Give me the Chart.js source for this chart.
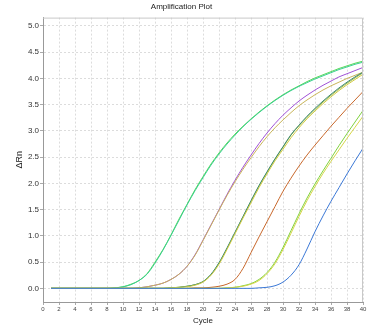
<!DOCTYPE html>
<html>
<head>
<meta charset="utf-8">
<script src="https://cdn.jsdelivr.net/npm/chart.js@4/dist/chart.umd.min.js"></script>
<style>
  html, body { margin: 0; padding: 0; background: #fff; }
  #wrap { width: 369px; height: 333px; }
</style>
</head>
<body>
<div id="wrap"><canvas id="ampPlot" width="369" height="333"></canvas></div>
<script>
// cycle numbers 1..40
const cycles = [1,2,3,4,5,6,7,8,9,10,11,12,13,14,15,16,17,18,19,20,
                21,22,23,24,25,26,27,28,29,30,31,32,33,34,35,36,37,38,39,40];

// delta Rn per cycle, one array per well
const wellGreen = [0,0,0,0,0,0,0,0,0.01,0.03,0.08,0.15,0.28,0.5,0.74,1.02,1.32,1.6,1.88,2.13,
                   2.37,2.58,2.77,2.94,3.09,3.23,3.36,3.48,3.59,3.69,3.78,3.86,3.94,4.01,4.07,4.13,4.19,4.24,4.29,4.33];
const wellTeal = [0,0,0,0,0,0,0,0,0.01,0.03,0.07,0.15,0.27,0.48,0.73,1.01,1.3,1.59,1.86,2.11,
                  2.35,2.56,2.75,2.92,3.08,3.22,3.35,3.47,3.58,3.68,3.77,3.85,3.92,3.99,4.05,4.11,4.17,4.22,4.27,4.31];
const wellPurple = [0,0,0,0,0,0,0,0,0,0,0,0.01,0.03,0.06,0.1,0.17,0.27,0.42,0.64,0.92,
                    1.21,1.5,1.79,2.06,2.31,2.54,2.76,2.96,3.14,3.3,3.44,3.57,3.68,3.78,3.87,3.95,4.03,4.09,4.15,4.21];
const wellTan = [0,0,0,0,0,0,0,0,0,0,0,0.01,0.03,0.06,0.1,0.17,0.27,0.42,0.63,0.91,
                 1.2,1.49,1.77,2.03,2.27,2.49,2.7,2.89,3.06,3.21,3.35,3.48,3.59,3.69,3.78,3.86,3.93,4.0,4.06,4.12];
const wellOlive = [0,0,0,0,0,0,0,0,0,0,0,0,0,0,0,0.01,0.02,0.04,0.07,0.13,
                   0.26,0.48,0.76,1.06,1.36,1.66,1.95,2.21,2.46,2.69,2.92,3.1,3.26,3.41,3.55,3.68,3.8,3.91,4.01,4.11];
const wellDarkTeal = [0,0,0,0,0,0,0,0,0,0,0,0,0,0,0,0.01,0.02,0.04,0.07,0.13,
                      0.27,0.49,0.77,1.07,1.37,1.67,1.96,2.22,2.47,2.7,2.93,3.11,3.28,3.43,3.57,3.7,3.82,3.93,4.03,4.12];
const wellYellow = [0,0,0,0,0,0,0,0,0,0,0,0,0,0,0,0.01,0.02,0.03,0.06,0.12,
                    0.25,0.46,0.74,1.04,1.34,1.63,1.92,2.18,2.43,2.65,2.87,3.06,3.23,3.38,3.52,3.65,3.77,3.88,3.98,4.08];
const wellOrange = [0,0,0,0,0,0,0,0,0,0,0,0,0,0,0,0,0,0,0.01,0.01,
                    0.02,0.04,0.08,0.17,0.38,0.68,0.98,1.27,1.56,1.85,2.1,2.33,2.54,2.73,2.91,3.09,3.26,3.43,3.59,3.75];
const wellLime = [0,0,0,0,0,0,0,0,0,0,0,0,0,0,0,0,0,0,0,0,
                  0,0,0.01,0.02,0.05,0.09,0.17,0.3,0.5,0.78,1.1,1.42,1.72,1.99,2.24,2.48,2.72,2.95,3.17,3.39];
const wellLemon = [0,0,0,0,0,0,0,0,0,0,0,0,0,0,0,0,0,0,0,0,
                   0,0,0.01,0.02,0.04,0.08,0.15,0.28,0.47,0.74,1.05,1.37,1.67,1.94,2.19,2.42,2.64,2.86,3.07,3.28];
const wellBlue = [0,0,0,0,0,0,0,0,0,0,0,0,0,0,0,0,0,0,0,0,
                  0,0,0,0,0,0,0.01,0.02,0.05,0.12,0.25,0.45,0.75,1.08,1.38,1.66,1.92,2.18,2.43,2.67];

const xTicks = [0,2,4,6,8,10,12,14,16,18,20,22,24,26,28,30,32,34,36,38,40];
const yTicks = [0,0.5,1,1.5,2,2.5,3,3.5,4,4.5,5];

const wells = [
  { data: wellBlue, color: '#3b78d6' },
  { data: wellLemon, color: '#d6d64a' },
  { data: wellLime, color: '#7fd23e' },
  { data: wellYellow, color: '#d2cc44' },
  { data: wellDarkTeal, color: '#3f8a74' },
  { data: wellOlive, color: '#98b646' },
  { data: wellTan, color: '#c9b55a' },
  { data: wellPurple, color: '#a052d6' },
  { data: wellTeal, color: '#3ccf92' },
  { data: wellGreen, color: '#58d858' },
  { data: wellOrange, color: '#c8682c' }
];

const datasets = wells.map(w => ({
  data: cycles.map((c, i) => ({ x: c, y: w.data[i] })),
  borderColor: w.color,
  borderWidth: 1,
  pointRadius: 0,
  fill: false,
  cubicInterpolationMode: 'monotone'
}));

// light frame on top and right of the plot
const frame = {
  id: 'frame',
  afterDraw(chart) {
    const a = chart.chartArea, ctx = chart.ctx;
    ctx.save();
    ctx.strokeStyle = '#c8c8c8';
    ctx.lineWidth = 1;
    ctx.beginPath();
    ctx.moveTo(a.left, a.top + 0.5);
    ctx.lineTo(a.right - 0.5, a.top + 0.5);
    ctx.lineTo(a.right - 0.5, a.bottom);
    ctx.stroke();
    ctx.restore();
  }
};

const font = 'Liberation Sans, Arial, sans-serif';

const grid = {
  color: '#dcdcdc',
  lineWidth: 1,
  tickLength: 3,
  tickColor: '#aaa'
};

new Chart(document.getElementById('ampPlot'), {
  type: 'line',
  data: { datasets: datasets },
  options: {
    responsive: false,
    animation: false,
    layout: { padding: { left: 0, right: 6, top: 0, bottom: 0 } },
    plugins: {
      legend: { display: false },
      tooltip: { enabled: false },
      title: {
        display: true,
        text: 'Amplification Plot',
        color: '#222',
        font: { family: font, size: 8, weight: 'normal' },
        padding: { top: 2, bottom: 6 }
      }
    },
    scales: {
      x: {
        type: 'linear',
        min: 0,
        max: 40,
        afterBuildTicks: s => { s.ticks = xTicks.map(v => ({ value: v })); },
        afterFit: s => { s.height = 31; },
        grid: grid,
        border: { color: '#999', dash: [2, 2], width: 1 },
        ticks: {
          color: '#444',
          padding: 1,
          maxRotation: 0,
          autoSkip: false,
          font: { family: font, size: 6 }
        },
        title: {
          display: true,
          text: 'Cycle',
          color: '#222',
          font: { family: font, size: 8 },
          padding: { top: 0, bottom: 7 }
        }
      },
      y: {
        min: -0.26,
        max: 5.16,
        afterBuildTicks: s => { s.ticks = yTicks.map(v => ({ value: v })); },
        afterFit: s => { s.width = 43; },
        grid: grid,
        border: { color: '#999', dash: [2, 2], width: 1 },
        ticks: {
          color: '#333',
          padding: 1,
          callback: v => v.toFixed(1),
          font: { family: font, size: 8 }
        },
        title: {
          display: true,
          text: 'ΔRn',
          color: '#222',
          font: { family: font, size: 9 },
          padding: { top: 14, bottom: 0 }
        }
      }
    }
  },
  plugins: [frame]
});
</script>
</body>
</html>
